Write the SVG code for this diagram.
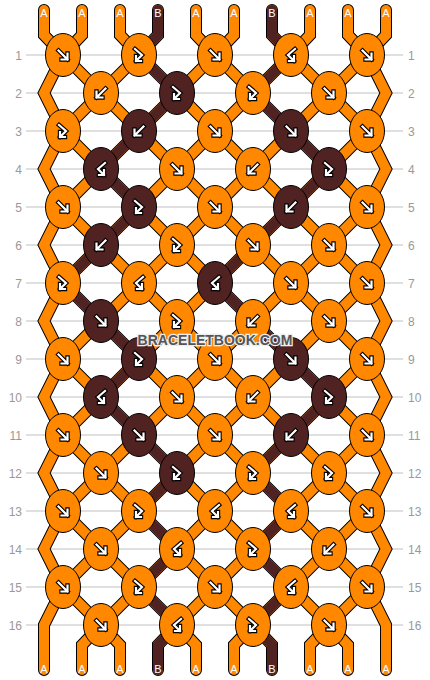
<svg xmlns="http://www.w3.org/2000/svg" xmlns:xlink="http://www.w3.org/1999/xlink" width="430" height="680" viewBox="0 0 430 680">
<style>
.grid line{stroke:#c0c0c0;stroke-width:1}
.num{font-family:"Liberation Sans",Arial,sans-serif;font-size:12px;fill:#999}
.lbl{font-family:"Liberation Sans",Arial,sans-serif;font-size:11px;fill:#fff;text-anchor:middle}
.so{fill:none;stroke:#000;stroke-width:12;stroke-linecap:round;stroke-linejoin:miter}
.si{fill:none;stroke:#ff8800;stroke-width:10;stroke-linecap:round;stroke-linejoin:miter}
.sd{fill:none;stroke:#502222;stroke-width:10;stroke-linecap:round;stroke-linejoin:miter}
ellipse{stroke:#000;stroke-width:1}
.o{fill:#ff8800}
.d{fill:#502222}
.ao{fill:none;stroke:#000;stroke-width:4.4;stroke-linecap:square;stroke-linejoin:miter}
.ai{fill:none;stroke:#fff;stroke-width:2.2;stroke-linecap:square;stroke-linejoin:miter}
.wm{font-family:"Liberation Sans",Arial,sans-serif;font-size:14px;font-weight:bold;text-anchor:middle}
</style>
<defs>
<g id="aF"><path class="ao" d="M-4.5,-4.5 L4.5,4.5 M4.5,-1.5 V4.5 H-1.5"/><path class="ai" d="M-4.5,-4.5 L4.5,4.5 M4.5,-1.5 V4.5 H-1.5"/></g>
<g id="aB" transform="scale(-1,1)"><use href="#aF"/></g>
<g id="aFB"><path class="ao" d="M-4,-6 L3,0 L-3,6 M-3,1 V6 H2"/><path class="ai" d="M-4,-6 L3,0 L-3,6 M-3,1 V6 H2"/></g>
<g id="aBF" transform="scale(-1,1)"><use href="#aFB"/></g>
<path id="l0" d="M44,10 V35 L63,55 L44,93 L63,131 L44,169 L63,207 L44,245 L63,283 L44,321 L63,359 L44,397 L63,435 L44,473 L63,511 L44,549 L63,587 L44,625 V670"/>
<path id="l1" d="M82,10 V35 L63,55 L101,93 L63,131 L101,169 L63,207 L101,245 L63,283 L101,321 L63,359 L101,397 L63,435 L101,473 L63,511 L101,549 L63,587 L101,625 L82,645 V670"/>
<path id="l2" d="M120,10 V35 L139,55 L101,93 L139,131 L101,169 L139,207 L101,245 L139,283 L101,321 L139,359 L101,397 L139,435 L101,473 L139,511 L101,549 L139,587 L101,625 L120,645 V670"/>
<path id="l3" d="M158,10 V35 L139,55 L177,93 L139,131 L177,169 L139,207 L177,245 L139,283 L177,321 L139,359 L177,397 L139,435 L177,473 L139,511 L177,549 L139,587 L177,625 L158,645 V670"/>
<path id="l4" d="M196,10 V35 L215,55 L177,93 L215,131 L177,169 L215,207 L177,245 L215,283 L177,321 L215,359 L177,397 L215,435 L177,473 L215,511 L177,549 L215,587 L177,625 L196,645 V670"/>
<path id="l5" d="M234,10 V35 L215,55 L253,93 L215,131 L253,169 L215,207 L253,245 L215,283 L253,321 L215,359 L253,397 L215,435 L253,473 L215,511 L253,549 L215,587 L253,625 L234,645 V670"/>
<path id="l6" d="M272,10 V35 L291,55 L253,93 L291,131 L253,169 L291,207 L253,245 L291,283 L253,321 L291,359 L253,397 L291,435 L253,473 L291,511 L253,549 L291,587 L253,625 L272,645 V670"/>
<path id="l7" d="M310,10 V35 L291,55 L329,93 L291,131 L329,169 L291,207 L329,245 L291,283 L329,321 L291,359 L329,397 L291,435 L329,473 L291,511 L329,549 L291,587 L329,625 L310,645 V670"/>
<path id="l8" d="M348,10 V35 L367,55 L329,93 L367,131 L329,169 L367,207 L329,245 L367,283 L329,321 L367,359 L329,397 L367,435 L329,473 L367,511 L329,549 L367,587 L329,625 L348,645 V670"/>
<path id="l9" d="M386,10 V35 L367,55 L386,93 L367,131 L386,169 L367,207 L386,245 L367,283 L386,321 L367,359 L386,397 L367,435 L386,473 L367,511 L386,549 L367,587 L386,625 V670"/>
</defs>
<rect width="430" height="680" fill="#fff"/>
<g class="grid">
<line x1="26" y1="55" x2="403" y2="55"/><line x1="26" y1="93" x2="403" y2="93"/><line x1="26" y1="131" x2="403" y2="131"/><line x1="26" y1="169" x2="403" y2="169"/>
<line x1="26" y1="207" x2="403" y2="207"/><line x1="26" y1="245" x2="403" y2="245"/><line x1="26" y1="283" x2="403" y2="283"/><line x1="26" y1="321" x2="403" y2="321"/>
<line x1="26" y1="359" x2="403" y2="359"/><line x1="26" y1="397" x2="403" y2="397"/><line x1="26" y1="435" x2="403" y2="435"/><line x1="26" y1="473" x2="403" y2="473"/>
<line x1="26" y1="511" x2="403" y2="511"/><line x1="26" y1="549" x2="403" y2="549"/><line x1="26" y1="587" x2="403" y2="587"/><line x1="26" y1="625" x2="403" y2="625"/>
</g>
<g id="rownums">
<text class="num" x="22" y="59.5" text-anchor="end">1</text><text class="num" x="22" y="97.5" text-anchor="end">2</text><text class="num" x="22" y="135.5" text-anchor="end">3</text><text class="num" x="22" y="173.5" text-anchor="end">4</text>
<text class="num" x="22" y="211.5" text-anchor="end">5</text><text class="num" x="22" y="249.5" text-anchor="end">6</text><text class="num" x="22" y="287.5" text-anchor="end">7</text><text class="num" x="22" y="325.5" text-anchor="end">8</text>
<text class="num" x="22" y="363.5" text-anchor="end">9</text><text class="num" x="22" y="401.5" text-anchor="end">10</text><text class="num" x="22" y="439.5" text-anchor="end">11</text><text class="num" x="22" y="477.5" text-anchor="end">12</text>
<text class="num" x="22" y="515.5" text-anchor="end">13</text><text class="num" x="22" y="553.5" text-anchor="end">14</text><text class="num" x="22" y="591.5" text-anchor="end">15</text><text class="num" x="22" y="629.5" text-anchor="end">16</text>
<text class="num" x="408" y="59.5">1</text><text class="num" x="408" y="97.5">2</text><text class="num" x="408" y="135.5">3</text><text class="num" x="408" y="173.5">4</text>
<text class="num" x="408" y="211.5">5</text><text class="num" x="408" y="249.5">6</text><text class="num" x="408" y="287.5">7</text><text class="num" x="408" y="325.5">8</text>
<text class="num" x="408" y="363.5">9</text><text class="num" x="408" y="401.5">10</text><text class="num" x="408" y="439.5">11</text><text class="num" x="408" y="477.5">12</text>
<text class="num" x="408" y="515.5">13</text><text class="num" x="408" y="553.5">14</text><text class="num" x="408" y="591.5">15</text><text class="num" x="408" y="629.5">16</text>
</g>
<g id="connectors">
<use href="#l0" class="so"/><use href="#l1" class="so"/><use href="#l2" class="so"/><use href="#l3" class="so"/><use href="#l4" class="so"/>
<use href="#l5" class="so"/><use href="#l6" class="so"/><use href="#l7" class="so"/><use href="#l8" class="so"/><use href="#l9" class="so"/>
<use href="#l0" class="si"/><use href="#l1" class="si"/><use href="#l2" class="si"/><use href="#l3" class="si"/><use href="#l4" class="si"/>
<use href="#l5" class="si"/><use href="#l6" class="si"/><use href="#l7" class="si"/><use href="#l8" class="si"/><use href="#l9" class="si"/>
<path class="sd" d="M158,10 V35 L139,55 L177,93 L139,131 L101,169 L139,207 L101,245 L63,283 L101,321 L139,359 L101,397 L139,435 L177,473 L139,511 L177,549 L139,587 L177,625 L158,645 V670"/>
<path class="sd" d="M272,10 V35 L291,55 L253,93 L291,131 L329,169 L291,207 L253,245 L215,283 L253,321 L291,359 L329,397 L291,435 L253,473 L291,511 L253,549 L291,587 L253,625 L272,645 V670"/>
</g>
<g id="labels">
<text class="lbl" x="44" y="17">A</text><text class="lbl" x="82" y="17">A</text><text class="lbl" x="120" y="17">A</text><text class="lbl" x="158" y="17">B</text><text class="lbl" x="196" y="17">A</text>
<text class="lbl" x="234" y="17">A</text><text class="lbl" x="272" y="17">B</text><text class="lbl" x="310" y="17">A</text><text class="lbl" x="348" y="17">A</text><text class="lbl" x="386" y="17">A</text>
<text class="lbl" x="44" y="673">A</text><text class="lbl" x="82" y="673">A</text><text class="lbl" x="120" y="673">A</text><text class="lbl" x="158" y="673">B</text><text class="lbl" x="196" y="673">A</text>
<text class="lbl" x="234" y="673">A</text><text class="lbl" x="272" y="673">B</text><text class="lbl" x="310" y="673">A</text><text class="lbl" x="348" y="673">A</text><text class="lbl" x="386" y="673">A</text>
</g>
<g id="knots">
<g id="k1-1"><ellipse class="o" cx="63" cy="55" rx="17.5" ry="21.5"/><use href="#aF" x="63" y="55"/></g>
<g id="k1-2"><ellipse class="o" cx="139" cy="55" rx="17.5" ry="21.5"/><use href="#aFB" x="139" y="55"/></g>
<g id="k1-3"><ellipse class="o" cx="215" cy="55" rx="17.5" ry="21.5"/><use href="#aF" x="215" y="55"/></g>
<g id="k1-4"><ellipse class="o" cx="291" cy="55" rx="17.5" ry="21.5"/><use href="#aBF" x="291" y="55"/></g>
<g id="k1-5"><ellipse class="o" cx="367" cy="55" rx="17.5" ry="21.5"/><use href="#aF" x="367" y="55"/></g>
<g id="k2-1"><ellipse class="o" cx="101" cy="93" rx="17.5" ry="21.5"/><use href="#aB" x="101" y="93"/></g>
<g id="k2-2"><ellipse class="d" cx="177" cy="93" rx="17.5" ry="21.5"/><use href="#aFB" x="177" y="93"/></g>
<g id="k2-3"><ellipse class="o" cx="253" cy="93" rx="17.5" ry="21.5"/><use href="#aFB" x="253" y="93"/></g>
<g id="k2-4"><ellipse class="o" cx="329" cy="93" rx="17.5" ry="21.5"/><use href="#aF" x="329" y="93"/></g>
<g id="k3-1"><ellipse class="o" cx="63" cy="131" rx="17.5" ry="21.5"/><use href="#aFB" x="63" y="131"/></g>
<g id="k3-2"><ellipse class="d" cx="139" cy="131" rx="17.5" ry="21.5"/><use href="#aB" x="139" y="131"/></g>
<g id="k3-3"><ellipse class="o" cx="215" cy="131" rx="17.5" ry="21.5"/><use href="#aF" x="215" y="131"/></g>
<g id="k3-4"><ellipse class="d" cx="291" cy="131" rx="17.5" ry="21.5"/><use href="#aF" x="291" y="131"/></g>
<g id="k3-5"><ellipse class="o" cx="367" cy="131" rx="17.5" ry="21.5"/><use href="#aF" x="367" y="131"/></g>
<g id="k4-1"><ellipse class="d" cx="101" cy="169" rx="17.5" ry="21.5"/><use href="#aBF" x="101" y="169"/></g>
<g id="k4-2"><ellipse class="o" cx="177" cy="169" rx="17.5" ry="21.5"/><use href="#aF" x="177" y="169"/></g>
<g id="k4-3"><ellipse class="o" cx="253" cy="169" rx="17.5" ry="21.5"/><use href="#aB" x="253" y="169"/></g>
<g id="k4-4"><ellipse class="d" cx="329" cy="169" rx="17.5" ry="21.5"/><use href="#aFB" x="329" y="169"/></g>
<g id="k5-1"><ellipse class="o" cx="63" cy="207" rx="17.5" ry="21.5"/><use href="#aF" x="63" y="207"/></g>
<g id="k5-2"><ellipse class="d" cx="139" cy="207" rx="17.5" ry="21.5"/><use href="#aFB" x="139" y="207"/></g>
<g id="k5-3"><ellipse class="o" cx="215" cy="207" rx="17.5" ry="21.5"/><use href="#aF" x="215" y="207"/></g>
<g id="k5-4"><ellipse class="d" cx="291" cy="207" rx="17.5" ry="21.5"/><use href="#aB" x="291" y="207"/></g>
<g id="k5-5"><ellipse class="o" cx="367" cy="207" rx="17.5" ry="21.5"/><use href="#aF" x="367" y="207"/></g>
<g id="k6-1"><ellipse class="d" cx="101" cy="245" rx="17.5" ry="21.5"/><use href="#aB" x="101" y="245"/></g>
<g id="k6-2"><ellipse class="o" cx="177" cy="245" rx="17.5" ry="21.5"/><use href="#aFB" x="177" y="245"/></g>
<g id="k6-3"><ellipse class="o" cx="253" cy="245" rx="17.5" ry="21.5"/><use href="#aF" x="253" y="245"/></g>
<g id="k6-4"><ellipse class="o" cx="329" cy="245" rx="17.5" ry="21.5"/><use href="#aF" x="329" y="245"/></g>
<g id="k7-1"><ellipse class="o" cx="63" cy="283" rx="17.5" ry="21.5"/><use href="#aFB" x="63" y="283"/></g>
<g id="k7-2"><ellipse class="o" cx="139" cy="283" rx="17.5" ry="21.5"/><use href="#aBF" x="139" y="283"/></g>
<g id="k7-3"><ellipse class="d" cx="215" cy="283" rx="17.5" ry="21.5"/><use href="#aBF" x="215" y="283"/></g>
<g id="k7-4"><ellipse class="o" cx="291" cy="283" rx="17.5" ry="21.5"/><use href="#aF" x="291" y="283"/></g>
<g id="k7-5"><ellipse class="o" cx="367" cy="283" rx="17.5" ry="21.5"/><use href="#aF" x="367" y="283"/></g>
<g id="k8-1"><ellipse class="d" cx="101" cy="321" rx="17.5" ry="21.5"/><use href="#aF" x="101" y="321"/></g>
<g id="k8-2"><ellipse class="o" cx="177" cy="321" rx="17.5" ry="21.5"/><use href="#aFB" x="177" y="321"/></g>
<g id="k8-3"><ellipse class="o" cx="253" cy="321" rx="17.5" ry="21.5"/><use href="#aB" x="253" y="321"/></g>
<g id="k8-4"><ellipse class="o" cx="329" cy="321" rx="17.5" ry="21.5"/><use href="#aF" x="329" y="321"/></g>
<g id="k9-1"><ellipse class="o" cx="63" cy="359" rx="17.5" ry="21.5"/><use href="#aF" x="63" y="359"/></g>
<g id="k9-2"><ellipse class="d" cx="139" cy="359" rx="17.5" ry="21.5"/><use href="#aFB" x="139" y="359"/></g>
<g id="k9-3"><ellipse class="o" cx="215" cy="359" rx="17.5" ry="21.5"/><use href="#aF" x="215" y="359"/></g>
<g id="k9-4"><ellipse class="d" cx="291" cy="359" rx="17.5" ry="21.5"/><use href="#aF" x="291" y="359"/></g>
<g id="k9-5"><ellipse class="o" cx="367" cy="359" rx="17.5" ry="21.5"/><use href="#aF" x="367" y="359"/></g>
<g id="k10-1"><ellipse class="d" cx="101" cy="397" rx="17.5" ry="21.5"/><use href="#aBF" x="101" y="397"/></g>
<g id="k10-2"><ellipse class="o" cx="177" cy="397" rx="17.5" ry="21.5"/><use href="#aF" x="177" y="397"/></g>
<g id="k10-3"><ellipse class="o" cx="253" cy="397" rx="17.5" ry="21.5"/><use href="#aB" x="253" y="397"/></g>
<g id="k10-4"><ellipse class="d" cx="329" cy="397" rx="17.5" ry="21.5"/><use href="#aFB" x="329" y="397"/></g>
<g id="k11-1"><ellipse class="o" cx="63" cy="435" rx="17.5" ry="21.5"/><use href="#aF" x="63" y="435"/></g>
<g id="k11-2"><ellipse class="d" cx="139" cy="435" rx="17.5" ry="21.5"/><use href="#aF" x="139" y="435"/></g>
<g id="k11-3"><ellipse class="o" cx="215" cy="435" rx="17.5" ry="21.5"/><use href="#aF" x="215" y="435"/></g>
<g id="k11-4"><ellipse class="d" cx="291" cy="435" rx="17.5" ry="21.5"/><use href="#aB" x="291" y="435"/></g>
<g id="k11-5"><ellipse class="o" cx="367" cy="435" rx="17.5" ry="21.5"/><use href="#aF" x="367" y="435"/></g>
<g id="k12-1"><ellipse class="o" cx="101" cy="473" rx="17.5" ry="21.5"/><use href="#aF" x="101" y="473"/></g>
<g id="k12-2"><ellipse class="d" cx="177" cy="473" rx="17.5" ry="21.5"/><use href="#aFB" x="177" y="473"/></g>
<g id="k12-3"><ellipse class="o" cx="253" cy="473" rx="17.5" ry="21.5"/><use href="#aFB" x="253" y="473"/></g>
<g id="k12-4"><ellipse class="o" cx="329" cy="473" rx="17.5" ry="21.5"/><use href="#aFB" x="329" y="473"/></g>
<g id="k13-1"><ellipse class="o" cx="63" cy="511" rx="17.5" ry="21.5"/><use href="#aF" x="63" y="511"/></g>
<g id="k13-2"><ellipse class="o" cx="139" cy="511" rx="17.5" ry="21.5"/><use href="#aFB" x="139" y="511"/></g>
<g id="k13-3"><ellipse class="o" cx="215" cy="511" rx="17.5" ry="21.5"/><use href="#aBF" x="215" y="511"/></g>
<g id="k13-4"><ellipse class="o" cx="291" cy="511" rx="17.5" ry="21.5"/><use href="#aBF" x="291" y="511"/></g>
<g id="k13-5"><ellipse class="o" cx="367" cy="511" rx="17.5" ry="21.5"/><use href="#aF" x="367" y="511"/></g>
<g id="k14-1"><ellipse class="o" cx="101" cy="549" rx="17.5" ry="21.5"/><use href="#aF" x="101" y="549"/></g>
<g id="k14-2"><ellipse class="o" cx="177" cy="549" rx="17.5" ry="21.5"/><use href="#aBF" x="177" y="549"/></g>
<g id="k14-3"><ellipse class="o" cx="253" cy="549" rx="17.5" ry="21.5"/><use href="#aFB" x="253" y="549"/></g>
<g id="k14-4"><ellipse class="o" cx="329" cy="549" rx="17.5" ry="21.5"/><use href="#aB" x="329" y="549"/></g>
<g id="k15-1"><ellipse class="o" cx="63" cy="587" rx="17.5" ry="21.5"/><use href="#aF" x="63" y="587"/></g>
<g id="k15-2"><ellipse class="o" cx="139" cy="587" rx="17.5" ry="21.5"/><use href="#aFB" x="139" y="587"/></g>
<g id="k15-3"><ellipse class="o" cx="215" cy="587" rx="17.5" ry="21.5"/><use href="#aF" x="215" y="587"/></g>
<g id="k15-4"><ellipse class="o" cx="291" cy="587" rx="17.5" ry="21.5"/><use href="#aBF" x="291" y="587"/></g>
<g id="k15-5"><ellipse class="o" cx="367" cy="587" rx="17.5" ry="21.5"/><use href="#aF" x="367" y="587"/></g>
<g id="k16-1"><ellipse class="o" cx="101" cy="625" rx="17.5" ry="21.5"/><use href="#aF" x="101" y="625"/></g>
<g id="k16-2"><ellipse class="o" cx="177" cy="625" rx="17.5" ry="21.5"/><use href="#aBF" x="177" y="625"/></g>
<g id="k16-3"><ellipse class="o" cx="253" cy="625" rx="17.5" ry="21.5"/><use href="#aFB" x="253" y="625"/></g>
<g id="k16-4"><ellipse class="o" cx="329" cy="625" rx="17.5" ry="21.5"/><use href="#aF" x="329" y="625"/></g>
</g>
<g id="watermark">
<text class="wm" x="216" y="346" fill="#222" opacity="0.5">BRACELETBOOK.COM</text>
<text class="wm" x="215" y="345" fill="#555" stroke="#eee" stroke-width="2.5" paint-order="stroke">BRACELETBOOK.COM</text>
</g>
</svg>
